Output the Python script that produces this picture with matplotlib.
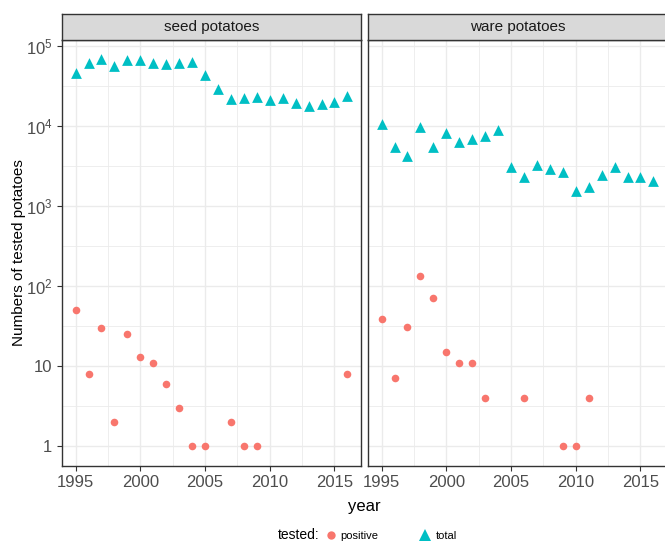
import numpy as np
import matplotlib.pyplot as plt
from matplotlib.lines import Line2D

plt.rcParams['font.family'] = ['Liberation Sans', 'DejaVu Sans']
plt.rcParams['mathtext.fontset'] = 'custom'
plt.rcParams['mathtext.rm'] = 'Liberation Sans'
plt.rcParams['mathtext.it'] = 'Liberation Sans'

# ------------------------------------------------------------------
# data
# ------------------------------------------------------------------
years = list(range(1995, 2017))

seed_total = [46500, 61000, 69000, 57000, 66500, 66500, 61000, 59000, 61000, 63000,
              44000, 29000, 22000, 22500, 23000, 21000, 22500, 19600, 17900, 19000,
              20000, 23700]
seed_pos_years = [1995, 1996, 1997, 1998, 1999, 2000, 2001, 2002, 2003, 2004,
                  2005, 2007, 2008, 2009, 2016]
seed_pos = [50, 8, 30, 2, 25, 13, 11, 6, 3, 1, 1, 2, 1, 1, 8]

ware_total = [10700, 5400, 4200, 9600, 5400, 8100, 6300, 6800, 7400, 8900,
              3100, 2300, 3250, 2900, 2700, 1550, 1730, 2450, 3070, 2300,
              2300, 2050]
ware_pos_years = [1995, 1996, 1997, 1998, 1999, 2000, 2001, 2002, 2003, 2006,
                  2009, 2010, 2011]
ware_pos = [39, 7, 31, 135, 71, 15, 11, 11, 4, 4, 1, 1, 4]

x_ticks = [1995, 2000, 2005, 2010, 2015]
y_ticks = [1, 10, 100, 1000, 10000, 100000]
y_tick_labels = [r'1', r'10', r'$10^2$', r'$10^3$', r'$10^4$', r'$10^5$']

panels = [
    ("seed potatoes", seed_pos_years, seed_pos, seed_total),
    ("ware potatoes", ware_pos_years, ware_pos, ware_total),
]

RED = '#F8766D'
CYAN = '#00BFC4'
BORDER = '#333333'
GRID = '#EBEBEB'
TICKTXT = '#4D4D4D'

W, H = 665, 543
fig = plt.figure(figsize=(W / 100, H / 100), dpi=100)

panel_left = [62, 368]
panel_w = 299
p_bottom, p_top = 465.7, 40
strip_top = 14

xlim = (1993.95, 2017.05)
ylim = (10 ** -0.245, 10 ** 5.075)

axes = []
for i, (name, py, pv, tv) in enumerate(panels):
    l = panel_left[i]
    ax = fig.add_axes([l / W, 1 - p_bottom / H, panel_w / W, (p_bottom - p_top) / H])
    axes.append(ax)
    ax.set_yscale('log')

    # grid
    ax.set_xticks(x_ticks)
    ax.set_xticks([1997.5, 2002.5, 2007.5, 2012.5], minor=True)
    ax.set_yticks(y_ticks)
    ax.set_yticks([10 ** (k + 0.5) for k in range(0, 5)], minor=True)
    ax.grid(which='major', color=GRID, linewidth=1.0)
    ax.grid(which='minor', color=GRID, linewidth=0.6)
    ax.set_axisbelow(True)

    ax.scatter(py, pv, s=30, color=RED, marker='o', linewidths=0, zorder=3)
    ax.scatter(years, tv, s=60, color=CYAN, marker='^', linewidths=0, zorder=3)

    ax.set_xlim(*xlim)
    ax.set_ylim(*ylim)

    for sp in ax.spines.values():
        sp.set_color(BORDER)
        sp.set_linewidth(1.0)

    ax.tick_params(which='major', length=3.5, color=BORDER, labelsize=12,
                   labelcolor=TICKTXT, width=0.8)
    ax.tick_params(which='minor', length=0)
    ax.set_xticklabels([str(t) for t in x_ticks])
    if i == 0:
        ax.set_yticklabels(y_tick_labels)
    else:
        ax.set_yticklabels([])
        ax.tick_params(axis='y', which='major', length=0)

    # strip
    sax = fig.add_axes([l / W, 1 - p_top / H, panel_w / W, (p_top - strip_top) / H])
    sax.set_facecolor('#D9D9D9')
    sax.set_xticks([])
    sax.set_yticks([])
    for sp in sax.spines.values():
        sp.set_color(BORDER)
        sp.set_linewidth(1.0)
    sax.text(0.5, 0.5, name, ha='center', va='center', fontsize=11,
             color='#1A1A1A', transform=sax.transAxes)

axes[0].set_ylabel('Numbers of tested potatoes', fontsize=11, color='black')
axes[0].yaxis.set_label_coords((26 - 62) / panel_w, 0.5)
fig.text(364 / W, 1 - 506 / H, 'year', ha='center', va='center', fontsize=12)

# legend
fig.text(278 / W, 1 - 535 / H, 'tested:', ha='left', va='center', fontsize=10)
handles = [
    Line2D([], [], linestyle='none', marker='o', markersize=6, color=RED,
           markeredgewidth=0, label='positive'),
    Line2D([], [], linestyle='none', marker='^', markersize=8, color=CYAN,
           markeredgewidth=0, label='total'),
]
fig.legend(handles=handles, loc='center left', bbox_to_anchor=(324 / W, 1 - 536 / H),
           ncol=2, frameon=False, fontsize=8, handletextpad=0.3, columnspacing=3.6,
           borderaxespad=0, borderpad=0, handlelength=1.2)

fig.savefig('out.png', dpi=100, facecolor='white')
